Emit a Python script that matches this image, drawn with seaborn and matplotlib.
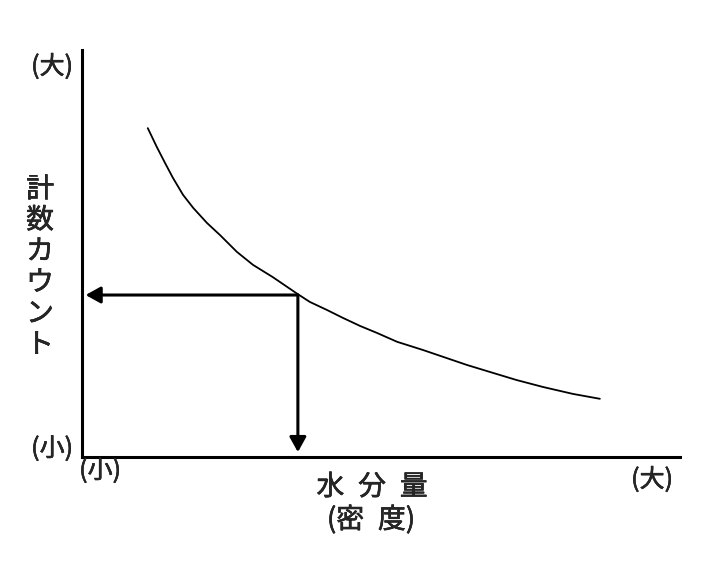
import numpy as np
import pandas as pd
import matplotlib.pyplot as plt
import matplotlib.patheffects as pe
import seaborn as sns

# curve (axis units 0..10, arbitrary)
moisture = [1.10, 1.25, 1.39, 1.52, 1.69, 1.86, 2.09, 2.31, 2.59, 2.86, 3.19, 3.60, 3.81,
            4.10, 4.36, 4.65, 4.93, 5.27, 5.70, 6.04, 6.44, 6.82, 7.27, 7.71, 8.21, 8.66]
counts = [8.08, 7.62, 7.22, 6.86, 6.44, 6.12, 5.75, 5.45, 5.04, 4.72, 4.42, 4.01, 3.81,
          3.61, 3.42, 3.22, 3.05, 2.83, 2.63, 2.46, 2.26, 2.09, 1.89, 1.72, 1.55, 1.43]

# reading point on the curve and where the arrows end
read_x = 3.61
read_y = 3.98
arrow_end_x = 0.06
arrow_end_y = 0.12

y_label = "計数カウント"
x_label = "水\u2002分\u2002量"
x_label2 = "(密\u2002度)"
low_label = "(小)"
high_label = "(大)"

W, H = 716, 568


def fx(px):
    return px / W


def fy(py):
    return 1 - py / H


def main():
    df = pd.DataFrame({"moisture": moisture, "counts": counts})

    sns.set_theme(style="white")
    plt.rcParams["font.family"] = ["Noto Sans CJK JP", "DejaVu Sans"]

    fig = plt.figure(figsize=(W / 100, H / 100), dpi=100)
    ax = fig.add_axes([fx(82), fy(457), fx(680) - fx(82), fy(50) - fy(457)])

    sns.lineplot(data=df, x="moisture", y="counts", color="black", linewidth=1.3, ax=ax)

    arrow = dict(arrowstyle="-|>,head_length=0.45,head_width=0.25", color="black",
                 lw=2.2, mutation_scale=20, shrinkA=0, shrinkB=0)
    ax.annotate("", xy=(arrow_end_x, read_y), xytext=(read_x, read_y), arrowprops=arrow)
    ax.annotate("", xy=(read_x, arrow_end_y), xytext=(read_x, read_y), arrowprops=arrow)

    ax.set_xlim(0, 10)
    ax.set_ylim(0, 10)
    ax.set_xticks([])
    ax.set_yticks([])
    ax.set_xlabel("")
    ax.set_ylabel("")
    sns.despine(ax=ax)
    for side in ["left", "bottom"]:
        ax.spines[side].set_color("black")
        ax.spines[side].set_linewidth(2.2)

    # slightly heavier than regular, like the original lettering
    heavy = [pe.withStroke(linewidth=0.4, foreground="black")]
    kw = dict(ha="center", va="center", path_effects=heavy)

    fs = 18
    fig.text(fx(52), fy(67), high_label, fontsize=fs, **kw)
    fig.text(fx(52), fy(449), low_label, fontsize=fs, **kw)
    fig.text(fx(100), fy(471), low_label, fontsize=fs, **kw)
    fig.text(fx(652), fy(480), high_label, fontsize=fs, **kw)

    fig.text(fx(40), fy(267), "\n".join(y_label), fontsize=20, linespacing=1.05, **kw)
    fig.text(fx(372), fy(487), x_label, fontsize=20, **kw)
    fig.text(fx(371), fy(520), x_label2, fontsize=20, **kw)

    fig.savefig("out.png", dpi=100)
    plt.close(fig)


if __name__ == "__main__":
    main()
